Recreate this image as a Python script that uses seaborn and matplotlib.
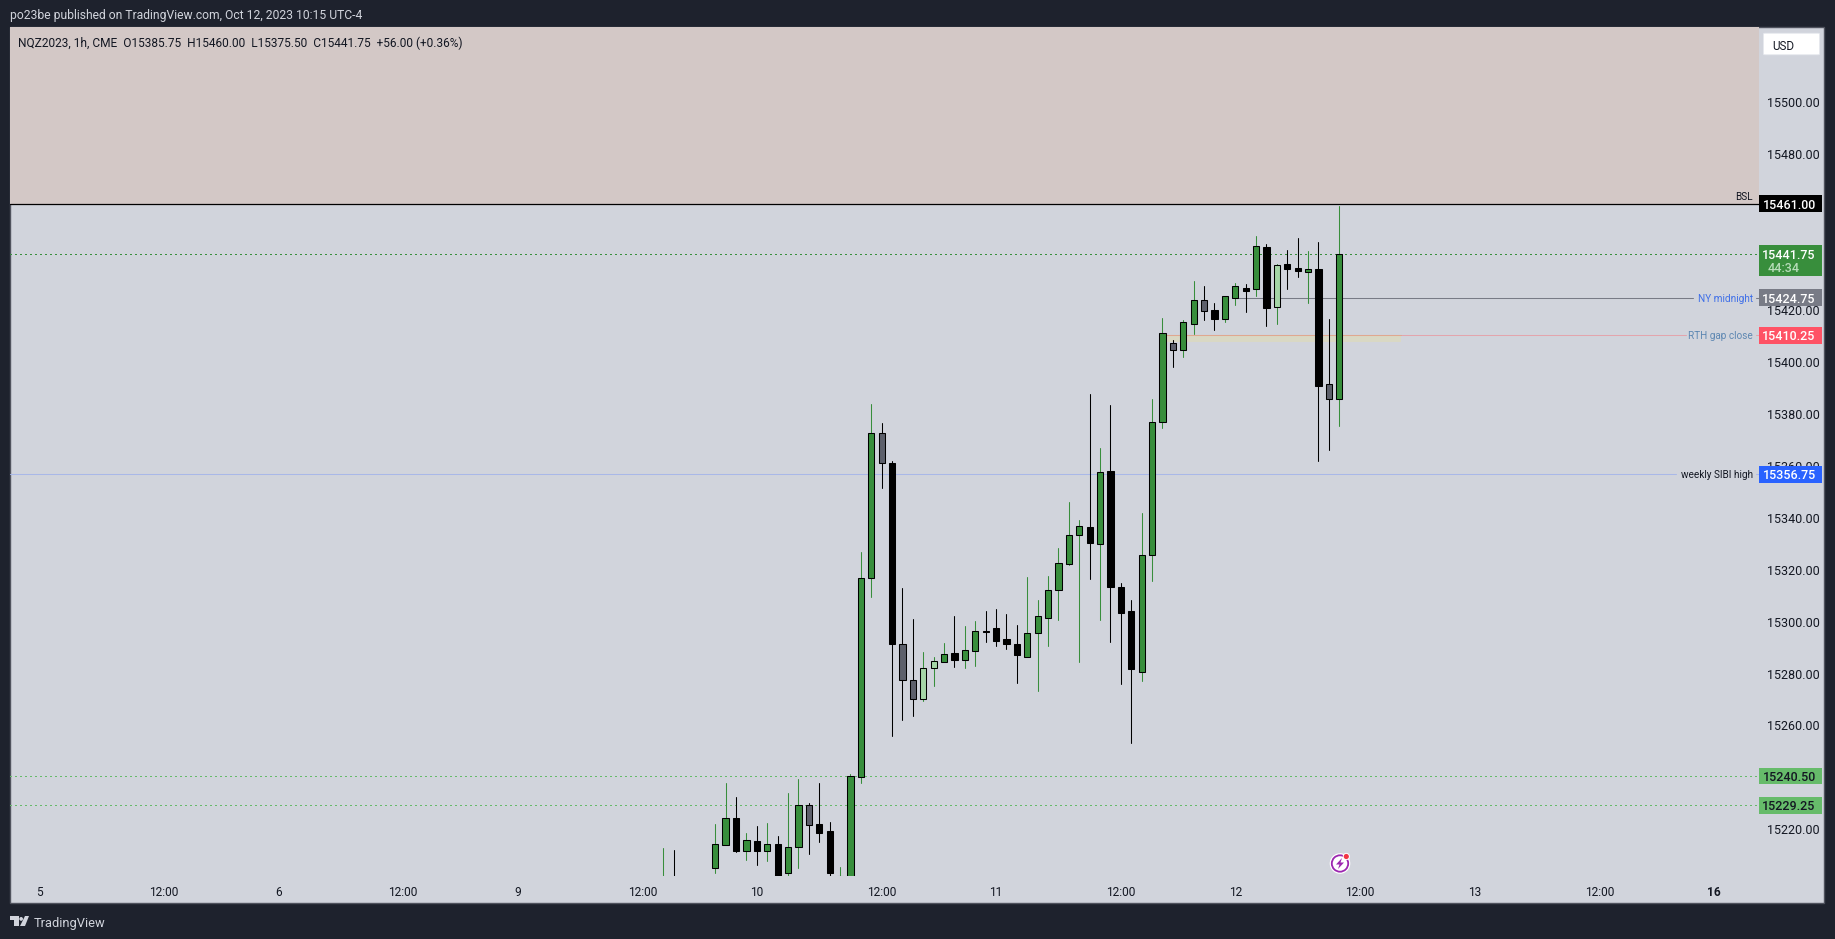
import pandas as pd
import matplotlib.pyplot as plt
import seaborn as sns
from matplotlib.patches import Rectangle, FancyBboxPatch, Polygon, Circle
from matplotlib.transforms import blended_transform_factory

# Hourly bars
bar_index = [-5, -4] + list(range(0, 61))
opens = [15198, 15200, 15205, 15214, 15224.5, 15211.5, 15215.5, 15211.5, 15214.25, 15203, 15213, 15229.5,
         15222, 15219.25, 15200, 15200, 15240.25, 15316.75, 15372.5, 15361, 15291.25, 15277.5, 15270.25, 15282.25,
         15284.5, 15287.75, 15285.25, 15288.75, 15296.5, 15297.5, 15293.25, 15291.25, 15286.5, 15295.5, 15301.5,
         15312.25, 15322.25, 15333.5, 15336.5, 15330, 15358, 15313.25, 15304, 15280.75, 15325.5, 15377,
         15407.5, 15404.75, 15414.75, 15424, 15420, 15416.75, 15424.75, 15428.5, 15428, 15444.25, 15421, 15437.75,
         15436.25, 15434.75, 15435.75, 15391.5, 15385.75]
highs = [15212.75, 15212, 15222, 15237.75, 15232.5, 15218.5, 15221.25, 15222.5, 15217.5, 15234, 15239.5, 15230,
         15237.75, 15222.75, 15205.5, 15241.25, 15326.75, 15383.75, 15376.5, 15362, 15313, 15301, 15288.25, 15286.5,
         15291.75, 15302.25, 15298.25, 15300.25, 15304, 15305, 15303, 15298.75, 15317.25, 15308.25, 15317.5,
         15328.5, 15346, 15339, 15387.75, 15366.75, 15383.5, 15315, 15308.25, 15341.75, 15385.75, 15417,
         15408.5, 15416.25, 15431.25, 15429.25, 15422.75, 15425.25, 15430.5, 15430, 15448.5, 15445.5, 15437.75,
         15443.25, 15447.75, 15442.75, 15446.25, 15416.5, 15460]
lows = [15195, 15190, 15203, 15214, 15211.25, 15208.25, 15206.25, 15207.75, 15195, 15200, 15205, 15210.5,
        15215.25, 15200, 15196, 15198, 15238, 15309.5, 15351.5, 15255.75, 15262.25, 15263.5, 15269.5, 15275.25,
        15284.5, 15282.5, 15282, 15283, 15292, 15290.5, 15289.5, 15276.5, 15286.5, 15273.25, 15290.5,
        15300.5, 15321.75, 15284.5, 15316.5, 15300.5, 15292, 15276, 15253.25, 15277, 15315.5, 15374.5,
        15398.25, 15402, 15410.75, 15416.25, 15412.25, 15415.5, 15422, 15419.25, 15425.5, 15414, 15414.5,
        15428, 15432.75, 15422.75, 15361.75, 15366, 15375.5]
closes = [15200, 15196, 15214.5, 15224.5, 15211.75, 15216, 15211.75, 15214.25, 15200, 15213, 15229.5, 15221.75,
          15218.75, 15203, 15202, 15240.5, 15316.75, 15372.5, 15361, 15291.25, 15277.5, 15270.25, 15282, 15285,
          15287.5, 15285.25, 15289, 15296.25, 15296, 15292.5, 15291.5, 15287, 15295.5, 15302, 15312.25,
          15322.5, 15333.5, 15336.75, 15330.25, 15357.5, 15313.25, 15303.25, 15281.75, 15325.5, 15377, 15411,
          15404.75, 15415.25, 15424, 15419.75, 15416.75, 15425.25, 15429.25, 15427.5, 15444.5, 15420.75, 15437.5,
          15435.75, 15435, 15435.75, 15390.75, 15385.75, 15441.75]
# g up, k down, s grey down, l light up
bar_kinds = ['g', 'k', 'g', 'g', 'k', 'g', 'k', 'g', 'k', 'g', 'g', 's', 'k', 'k', 'g', 'g', 'g', 'g', 's', 'k',
             's', 's', 'l', 'l', 'g', 'k', 'g', 'g', 'k', 'k', 'k', 'k', 'g', 'g', 'g', 'g', 'g', 'g', 'k', 'g',
             'k', 'k', 'k', 'g', 'g', 'g', 's', 'g', 'g', 's', 'k', 'g', 'g', 'k', 'g', 'k', 'l', 'k', 'k', 'g',
             'k', 's', 'g']

# 15240, 15440 and 15460 sit fully behind the price tags in the original
y_ticks = [15220, 15260, 15280, 15300, 15320, 15340, 15360, 15380, 15400, 15420, 15480, 15500]
time_ticks = [-65, -53, -42, -30, -19, -7, 4, 16, 27, 39, 50, 62, 73, 85, 96]
time_labels = ['5', '12:00', '6', '12:00', '9', '12:00', '10', '12:00', '11', '12:00', '12', '12:00', '13',
               '12:00', '16']

level_bsl = 15461.0
level_last = 15441.75
level_midnight = 15424.75
level_gap = 15410.25
level_gap_low = 15407.75
level_sibi = 15356.75
level_low1 = 15240.5
level_low2 = 15229.25

W, H = 1835, 939
DARK = '#1e222d'
PANE = '#d1d4dc'
UP = '#388e3c'
GREY = '#5d606b'
LIGHT = '#a5d6a7'
kind_fill = {'g': UP, 'k': '#000000', 's': GREY, 'l': LIGHT}
kind_wick = {'g': UP, 'k': '#000000', 's': '#000000', 'l': UP}

sns.set_theme(style='white')
plt.rcParams['font.family'] = ['Roboto', 'DejaVu Sans']
plt.rcParams['axes.unicode_minus'] = False

fig = plt.figure(figsize=(W / 100, H / 100), dpi=100, facecolor=DARK)


def fx(x):
    return x / W


def fy(y):
    return 1 - y / H


# pane + scales background
fig.add_artist(Rectangle((fx(10), fy(903)), 1814 / W, 876 / H, transform=fig.transFigure,
                         facecolor=PANE, edgecolor='#50535e', linewidth=1.0, zorder=-5))

ax = fig.add_axes([fx(10), fy(876), 1749 / W, 849 / H])
ax.patch.set_alpha(0)
for s in ax.spines.values():
    s.set_visible(False)

df = pd.DataFrame({'bar': bar_index, 'open': opens, 'high': highs, 'low': lows, 'close': closes, 'kind': bar_kinds})
df['top'] = df[['open', 'close']].max(axis=1)
df['bottom'] = df[['open', 'close']].min(axis=1)
df['wick'] = df['kind'].map(kind_wick)

# wicks
wicks = df.melt(id_vars=['bar', 'wick'], value_vars=['high', 'low'], value_name='price')
sns.lineplot(data=wicks, x='bar', y='price', units='bar', estimator=None, hue='wick',
             palette={UP: UP, '#000000': '#000000'}, linewidth=0.75, legend=False, ax=ax, zorder=4)

# bodies
n_before = len(ax.patches)
sns.barplot(x=df['bar'], y=df['top'] - df['bottom'], bottom=df['bottom'], native_scale=True, width=0.6,
            color=UP, saturation=1, edgecolor='black', linewidth=0.75, errorbar=None, ax=ax, zorder=5)
for patch, kind in zip(ax.patches[n_before:], df['kind']):
    patch.set_facecolor(kind_fill[kind])
    patch.set_edgecolor('black')

x_min, x_max = -67.8, 100.35
y_min, y_max = 15202.0, 15529.05
ax.set_xlim(x_min, x_max)
ax.set_ylim(y_min, y_max)
ax.set_xlabel('')
ax.set_ylabel('')

blend = blended_transform_factory(ax.transAxes, ax.transData)


def bx(px_x):
    return (px_x - 715.3) / 10.4


# zones and levels
dots = (0, (1, 3))
ax.axhspan(level_bsl, y_max, facecolor='#d3c8c6', edgecolor='none', zorder=1)
ax.axhline(level_bsl, color='#000000', linewidth=0.9, zorder=3)
ax.axhline(level_last, color=UP, linewidth=0.75, linestyle=dots, antialiased=False, zorder=2)
ax.axhline(level_low1, color='#66bb6a', linewidth=0.75, linestyle=dots, antialiased=False, zorder=2)
ax.axhline(level_low2, color='#66bb6a', linewidth=0.75, linestyle=dots, antialiased=False, zorder=2)
ax.plot([bx(1237), bx(1693)], [level_midnight] * 2, color='#787b86', linewidth=0.75, zorder=2)
ax.plot([bx(1756), x_max], [level_midnight] * 2, color='#787b86', linewidth=0.75, zorder=2)
ax.plot([bx(1166), bx(1686)], [level_gap] * 2, color='#e3a5ad', linewidth=0.75, zorder=2)
ax.plot([bx(1756), x_max], [level_gap] * 2, color='#e3a5ad', linewidth=0.75, zorder=2)
ax.fill_between([bx(1166), bx(1401)], level_gap_low, level_gap, facecolor='#d9d8c4', edgecolor='none', zorder=1)
ax.plot([bx(1166), bx(1401)], [level_gap] * 2, color='#e0a890', linewidth=0.75, zorder=2)
ax.plot([x_min, bx(1676)], [level_sibi] * 2, color='#a9b8e8', linewidth=0.75, zorder=2)
ax.plot([bx(1756), x_max], [level_sibi] * 2, color='#a9b8e8', linewidth=0.75, zorder=2)

# axes ticks
ax.yaxis.tick_right()
ax.set_yticks(y_ticks)
ax.set_yticklabels([f'{v:.2f}' for v in y_ticks], fontsize=9.0, color='#131722')
ax.tick_params(axis='y', length=0, pad=6)
ax.set_xticks(time_ticks)
ax.set_xticklabels(time_labels, fontsize=8.6, color='#131722')
ax.tick_params(axis='x', length=0, pad=7)
ax.get_xticklabels()[-1].set_fontweight('bold')


# price tags on the scale
def price_tag(level, color, text_color, extra=None):
    if extra is None:
        ax.add_patch(Rectangle((1.0, level - 3.25), 63 / 1749, 6.5, transform=blend, facecolor=color,
                               edgecolor='none', clip_on=False, zorder=6))
    else:
        ax.add_patch(Rectangle((1.0, level - 8.6), 63 / 1749, 11.85, transform=blend, facecolor=color,
                               edgecolor='none', clip_on=False, zorder=6))
        ax.text(1 + 8.7 / 1749, level - 5.3, extra, transform=blend, ha='left', va='center_baseline',
                fontsize=9.0, color='#b7dcb9', clip_on=False, zorder=7, fontweight='medium')
    ax.text(1 + 56.7 / 1749, level, f'{level:.2f}', transform=blend, ha='right', va='center_baseline',
            fontsize=9.0, color=text_color, clip_on=False, zorder=7, fontweight='medium')


price_tag(level_bsl, '#000000', '#ffffff')
price_tag(level_last, UP, '#ffffff', extra='44:34')
price_tag(level_midnight, '#787b86', '#ffffff')
price_tag(level_gap, '#ff5265', '#ffffff')
price_tag(level_sibi, '#2962ff', '#ffffff')
price_tag(level_low1, '#66bb6a', '#131722')
price_tag(level_low2, '#66bb6a', '#131722')


# line labels, right aligned against the price scale
def line_label(level, text, color, dy=0.0):
    ax.text(1 - 6 / 1749, level + dy, text, transform=blend, ha='right', va='center_baseline',
            fontsize=7.2, color=color, zorder=7)


line_label(level_bsl, 'BSL', '#131722', dy=3.0)
line_label(level_midnight, 'NY midnight', '#3f6fe8')
line_label(level_gap, 'RTH gap close', '#5d87b2')
line_label(level_sibi, 'weekly SIBI high', '#131722')

# USD box
fig.add_artist(FancyBboxPatch((fx(1765), fy(54)), 53 / W, 20 / H, transform=fig.transFigure,
                              boxstyle='round,pad=0.0008', facecolor='#ffffff', edgecolor='#e6e8ee', linewidth=0.6,
                              zorder=8))
fig.text(fx(1772), fy(44.5), 'USD', fontsize=8.4, color='#131722', va='center_baseline', zorder=9)

# header, legend, footer
fig.text(fx(10), fy(14.5), 'po23be published on TradingView.com, Oct 12, 2023 10:15 UTC-4', fontsize=8.7,
         color='#d1d4dc', va='center_baseline')
fig.text(fx(18), fy(41.5), 'NQZ2023, 1h, CME  O15385.75  H15460.00  L15375.50  C15441.75  +56.00 (+0.36%)',
         fontsize=8.6, color='#131722', va='center_baseline')
fig.text(fx(33.5), fy(921.5), 'TradingView', fontsize=9.3, color='#d1d4dc', va='center_baseline')

# TradingView logo
for pts in ([(10, 916), (19, 916), (19, 926), (14, 926), (14, 920), (10, 920)],
            [(25, 916), (29, 916), (25, 926), (20, 926)]):
    fig.add_artist(Polygon([(fx(a), fy(b)) for a, b in pts], transform=fig.transFigure, facecolor='#d1d4dc',
                           edgecolor='none'))
fig.text(fx(21), fy(918), '\u25cf', fontsize=3.5, color='#d1d4dc', ha='center', va='center')

# lightning icon
ax_icon = fig.add_axes([fx(1326), fy(877), 28 / W, 28 / H])
ax_icon.set_xlim(1326, 1354)
ax_icon.set_ylim(877, 849)
ax_icon.axis('off')
ax_icon.patch.set_alpha(0)
ax_icon.add_patch(Circle((1340, 863.5), 10.3, facecolor='#ffffff', edgecolor='none'))
ax_icon.add_patch(Circle((1340, 863.5), 8.2, facecolor='none', edgecolor='#9c27b0', linewidth=1.3))
ax_icon.add_patch(Polygon([(1342, 858), (1336, 864.5), (1339.5, 864.5), (1338, 869), (1344, 862.5), (1340.5, 862.5)],
                          facecolor='#9c27b0', edgecolor='none'))
ax_icon.add_patch(Circle((1346.3, 856.5), 3.6, facecolor='#ffffff', edgecolor='none'))
ax_icon.add_patch(Circle((1346.3, 856.5), 2.6, facecolor='#f23645', edgecolor='none'))

fig.savefig('out.png', dpi=100, facecolor=DARK)
